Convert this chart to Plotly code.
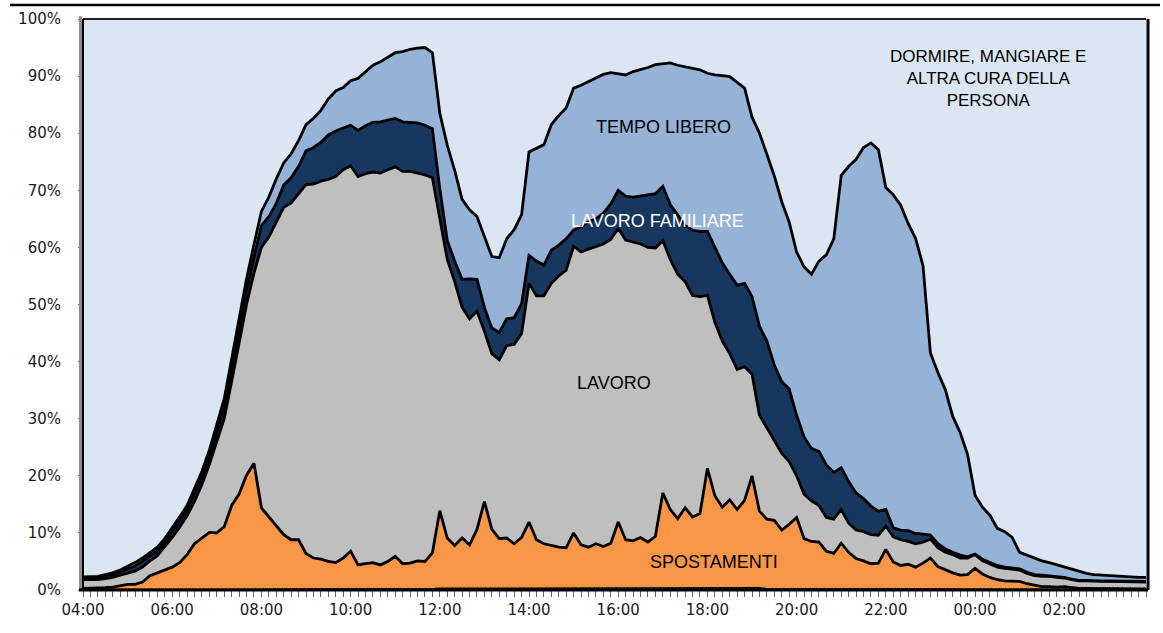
import plotly.graph_objects as go

# Categories: 10-minute slots from 04:00 to 03:50
TIMES = [f"{(4 + (10 * i) // 60) % 24:02d}:{(10 * i) % 60:02d}" for i in range(144)]
TICK_LABELS = ["04:00", "06:00", "08:00", "10:00", "12:00", "14:00",
               "16:00", "18:00", "20:00", "22:00", "00:00", "02:00"]
Y_TICKS = [0, 10, 20, 30, 40, 50, 60, 70, 80, 90, 100]
Y_TICK_LABELS = ["0%", "10%", "20%", "30%", "40%", "50%", "60%", "70%", "80%", "90%", "100%"]

# Shares (%) per activity, one value per 10-minute slot
STUDIO = [
    0.1, 0.1, 0.1, 0.1, 0.1, 0.1, 0.1, 0.1, 0.1, 0.1, 0.1, 0.1,
    0.1, 0.1, 0.1, 0.1, 0.1, 0.1, 0.1, 0.1, 0.1, 0.1, 0.1, 0.1,
    0.2, 0.2, 0.2, 0.2, 0.2, 0.2, 0.2, 0.2, 0.2, 0.2, 0.2, 0.2,
    0.2, 0.2, 0.2, 0.2, 0.2, 0.2, 0.2, 0.2, 0.2, 0.2, 0.2, 0.2,
    0.3, 0.3, 0.3, 0.3, 0.3, 0.3, 0.3, 0.3, 0.3, 0.3, 0.3, 0.3,
    0.3, 0.3, 0.3, 0.3, 0.3, 0.3, 0.3, 0.3, 0.3, 0.3, 0.3, 0.3,
    0.3, 0.3, 0.3, 0.3, 0.3, 0.3, 0.4, 0.4, 0.4, 0.4, 0.4, 0.4,
    0.4, 0.4, 0.4, 0.4, 0.4, 0.4, 0.4, 0.4, 0.2, 0.2, 0.2, 0.2,
    0.2, 0.2, 0.2, 0.2, 0.2, 0.2, 0.2, 0.2, 0.2, 0.2, 0.2, 0.2,
    0.2, 0.2, 0.2, 0.2, 0.2, 0.2, 0.2, 0.2, 0.2, 0.2, 0.2, 0.2,
    0.1, 0.1, 0.1, 0.1, 0.1, 0.1, 0.1, 0.1, 0.1, 0.1, 0.1, 0.1,
    0.1, 0.1, 0.1, 0.1, 0.1, 0.1, 0.1, 0.1, 0.1, 0.1, 0.1, 0.1,
]

SPOSTAMENTI = [
    0.2, 0.2, 0.2, 0.3, 0.4, 0.7, 0.9, 0.9, 1.3, 2.4, 2.9, 3.4,
    3.9, 4.7, 6.1, 8.0, 9.0, 10.0, 9.9, 11.0, 14.7, 16.7, 20.0, 22.1,
    14.2, 12.6, 11.1, 9.5, 8.6, 8.6, 6.2, 5.4, 5.2, 4.8, 4.6, 5.4,
    6.6, 4.2, 4.4, 4.6, 4.2, 4.8, 5.7, 4.4, 4.5, 4.9, 4.8, 6.3,
    13.6, 8.8, 7.5, 8.8, 7.6, 10.3, 15.2, 10.3, 8.7, 8.8, 7.8, 8.9,
    11.6, 8.5, 7.8, 7.5, 7.2, 7.1, 9.7, 7.6, 7.2, 7.8, 7.3, 7.9,
    11.6, 8.5, 8.3, 8.9, 8.1, 9.1, 16.6, 13.7, 12.1, 14.0, 12.4, 13.0,
    20.9, 16.1, 14.1, 15.4, 13.7, 15.3, 19.6, 13.4, 12.2, 12.0, 10.3, 11.3,
    12.5, 8.8, 8.3, 8.2, 6.6, 6.2, 8.0, 6.4, 5.3, 4.9, 4.4, 4.5,
    6.9, 4.7, 4.1, 4.3, 3.8, 4.5, 5.4, 3.9, 3.3, 2.8, 2.4, 2.5,
    3.7, 2.7, 2.1, 1.7, 1.5, 1.4, 1.4, 1.0, 0.7, 0.5, 0.5, 0.4,
    0.5, 0.3, 0.2, 0.2, 0.2, 0.1, 0.1, 0.1, 0.1, 0.1, 0.1, 0.1,
]

LAVORO = [
    1.5, 1.5, 1.5, 1.6, 1.7, 1.8, 2.0, 2.3, 2.6, 2.6, 3.0, 4.0,
    5.2, 6.2, 6.8, 7.4, 9.4, 11.9, 16.0, 18.9, 21.7, 26.2, 29.9, 33.3,
    45.6, 49.0, 53.1, 57.3, 59.0, 60.5, 64.6, 65.5, 66.2, 66.9, 67.6, 68.0,
    67.5, 68.0, 68.3, 68.4, 68.6, 68.6, 68.2, 68.7, 68.6, 67.9, 67.7, 65.7,
    51.1, 48.8, 46.2, 40.4, 39.6, 38.2, 29.8, 30.8, 31.3, 33.7, 34.9, 35.7,
    41.8, 42.7, 43.4, 45.9, 47.5, 48.6, 50.2, 51.3, 52.2, 52.1, 53.0, 53.2,
    51.4, 52.5, 52.3, 51.4, 51.6, 50.5, 44.2, 43.8, 42.8, 39.6, 38.8, 38.0,
    30.3, 30.4, 29.1, 25.6, 24.5, 23.4, 17.8, 16.8, 16.0, 13.9, 13.4, 11.0,
    7.3, 7.8, 7.1, 6.4, 5.9, 6.0, 5.9, 5.1, 5.0, 5.1, 5.1, 4.9,
    4.1, 4.4, 4.5, 4.0, 4.1, 3.7, 3.3, 3.3, 3.1, 3.2, 3.0, 2.9,
    2.4, 2.3, 2.3, 2.2, 2.2, 2.2, 2.0, 1.8, 1.7, 1.8, 1.8, 1.7,
    1.5, 1.4, 1.3, 1.3, 1.2, 1.3, 1.3, 1.3, 1.2, 1.2, 1.2, 1.2,
]

LAVORO_FAMILIARE = [
    0.3, 0.3, 0.4, 0.5, 0.5, 0.6, 0.7, 0.9, 1.0, 0.9, 0.9, 0.9,
    0.9, 1.0, 1.0, 1.3, 1.3, 1.3, 1.6, 2.0, 2.3, 2.5, 2.5, 2.8,
    3.8, 3.6, 3.3, 3.9, 4.4, 4.9, 5.9, 6.4, 6.8, 7.8, 8.0, 7.3,
    7.1, 8.1, 8.4, 8.7, 9.0, 8.7, 8.5, 8.7, 8.6, 8.8, 8.7, 8.6,
    5.3, 3.3, 3.6, 4.9, 7.0, 5.6, 4.2, 4.5, 4.8, 4.7, 4.7, 5.2,
    4.9, 6.1, 5.4, 5.8, 5.4, 5.5, 2.8, 4.4, 4.8, 4.8, 5.4, 6.2,
    6.7, 7.7, 7.9, 8.4, 9.1, 9.5, 9.5, 9.6, 10.4, 9.8, 11.4, 11.4,
    11.2, 13.0, 13.7, 13.9, 14.8, 14.6, 13.6, 15.6, 15.2, 13.3, 12.6, 12.7,
    10.6, 10.0, 9.2, 9.5, 9.2, 8.2, 7.3, 7.3, 6.5, 5.8, 5.0, 4.2,
    2.9, 1.6, 1.7, 1.9, 1.8, 1.4, 0.7, 0.7, 0.6, 0.4, 0.5, 0.2,
    0.1, 0.3, 0.3, 0.3, 0.2, 0.2, 0.2, 0.2, 0.2, 0.2, 0.1, 0.1,
    0.1, 0.1, 0.1, 0.1, 0.1, 0.1, 0.1, 0.1, 0.1, 0.1, 0.1, 0.1,
]

TEMPO_LIBERO = [
    0.2, 0.2, 0.2, 0.2, 0.3, 0.3, 0.4, 0.6, 0.6, 0.6, 0.6, 0.6,
    0.7, 0.8, 0.8, 1.0, 1.0, 1.2, 1.4, 1.5, 1.7, 2.0, 2.0, 2.2,
    2.5, 3.4, 4.3, 3.9, 4.2, 4.5, 4.6, 5.1, 5.6, 6.3, 7.0, 7.1,
    7.8, 9.1, 9.5, 10.0, 10.5, 11.0, 11.5, 12.3, 12.8, 13.1, 13.6, 13.3,
    13.2, 16.7, 15.9, 14.0, 12.1, 11.0, 12.3, 12.5, 13.1, 14.0, 15.4, 15.6,
    18.1, 19.8, 21.1, 22.0, 22.7, 22.9, 24.9, 24.8, 24.5, 24.7, 24.3, 23.0,
    20.4, 21.2, 22.0, 22.1, 22.4, 22.6, 21.5, 24.8, 26.2, 27.8, 28.4, 28.3,
    27.7, 30.3, 32.8, 34.6, 35.5, 34.2, 31.4, 33.8, 32.7, 33.1, 31.5, 29.2,
    28.6, 29.8, 30.5, 33.3, 36.8, 40.9, 51.2, 55.2, 58.4, 61.5, 63.6, 63.3,
    56.4, 58.3, 56.9, 53.8, 51.7, 47.0, 31.9, 30.0, 27.9, 23.8, 21.5, 17.9,
    10.3, 9.1, 8.3, 6.5, 6.2, 5.3, 2.9, 3.0, 2.9, 2.5, 2.3, 2.1,
    1.8, 1.7, 1.5, 1.2, 1.1, 1.0, 0.9, 0.8, 0.8, 0.7, 0.7, 0.7,
]

DORMIRE = [
    97.7, 97.7, 97.6, 97.3, 97.0, 96.5, 95.9, 95.2, 94.4, 93.4, 92.5, 91.0,
    89.2, 87.2, 85.2, 82.2, 79.2, 75.5, 71.0, 66.5, 59.5, 52.5, 45.5, 39.5,
    33.7, 31.2, 28.0, 25.2, 23.6, 21.3, 18.5, 17.4, 16.0, 14.0, 12.6, 12.0,
    10.8, 10.4, 9.2, 8.1, 7.5, 6.7, 5.9, 5.7, 5.3, 5.1, 5.0, 5.9,
    16.5, 22.1, 26.5, 31.6, 33.4, 34.6, 38.2, 41.6, 41.8, 38.5, 36.9, 34.3,
    23.3, 22.6, 22.0, 18.5, 16.9, 15.6, 12.1, 11.6, 11.0, 10.3, 9.7, 9.4,
    9.6, 9.8, 9.2, 8.9, 8.5, 8.0, 7.8, 7.7, 8.1, 8.4, 8.6, 8.9,
    9.5, 9.8, 9.9, 10.1, 11.1, 12.1, 17.2, 20.0, 23.7, 27.5, 32.0, 35.6,
    40.8, 43.4, 44.7, 42.4, 41.3, 38.5, 27.4, 25.8, 24.6, 22.5, 21.7, 22.9,
    29.5, 30.8, 32.6, 35.8, 38.4, 43.2, 58.5, 61.9, 64.9, 69.6, 72.4, 76.3,
    83.4, 85.5, 86.9, 89.2, 89.8, 90.8, 93.4, 93.9, 94.4, 94.9, 95.2, 95.6,
    96.0, 96.4, 96.8, 97.1, 97.3, 97.4, 97.5, 97.6, 97.7, 97.8, 97.8, 97.8,
]

SERIES = [
    ("Studio", STUDIO, "#7f7f7f"),
    ("Spostamenti", SPOSTAMENTI, "#F79646"),
    ("Lavoro", LAVORO, "#BFBFBF"),
    ("Lavoro familiare", LAVORO_FAMILIARE, "#17375E"),
    ("Tempo libero", TEMPO_LIBERO, "#95B3D7"),
    ("Dormire, mangiare e altra cura della persona", DORMIRE, "#DCE6F2"),
]

fig = go.Figure()
for name, vals, color in SERIES:
    last = name.startswith("Dormire")
    first = name == "Studio"
    fig.add_trace(go.Scatter(
        x=TIMES, y=vals, name=name, mode="lines",
        stackgroup="one", fillcolor=color,
        line=dict(color="#000000", width=0 if last else (1.5 if first else 2.8), shape="linear"),
        hoverinfo="x+y+name",
    ))

W, H = 1163, 633
L, R, T, B = 83, 17, 19, 43
pw, ph = W - L - R, H - T - B

def px(x):
    return (x - L) / pw

def py(y):
    return (H - B - y) / ph

label_font = "Liberation Sans, Arial, sans-serif"
annotations = [
    dict(x=px(988), y=py(78), text="DORMIRE, MANGIARE E<br>ALTRA CURA DELLA<br>PERSONA",
         font=dict(family=label_font, size=17, color="#000000"), align="center"),
    dict(x=px(663), y=py(127), text="TEMPO LIBERO",
         font=dict(family=label_font, size=18, color="#000000")),
    dict(x=px(657), y=py(221), text="LAVORO FAMILIARE",
         font=dict(family=label_font, size=18, color="#ffffff")),
    dict(x=px(614), y=py(383), text="LAVORO",
         font=dict(family=label_font, size=18, color="#000000")),
    dict(x=px(714), y=py(562), text="SPOSTAMENTI",
         font=dict(family=label_font, size=18, color="#000000")),
]
for a in annotations:
    a.update(xref="paper", yref="paper", showarrow=False, xanchor="center", yanchor="middle")

shapes = [
    # decorative rule at the very top
    dict(type="line", xref="paper", yref="paper", x0=px(10), x1=px(1160), y0=py(5), y1=py(5),
         line=dict(color="#000000", width=2.5)),
    # plot frame
    dict(type="line", xref="paper", yref="paper", x0=0, x1=1, y0=1, y1=1,
         line=dict(color="#222222", width=2)),
    dict(type="line", xref="paper", yref="paper", x0=px(1148), x1=px(1148), y0=0, y1=1,
         line=dict(color="#000000", width=3)),
    dict(type="rect", xref="paper", yref="paper", x0=px(79), x1=px(82), y0=0, y1=1.005,
         fillcolor="#8c8c8c", line=dict(width=0)),
    dict(type="line", xref="paper", yref="paper", x0=px(83), x1=px(83), y0=0, y1=1,
         line=dict(color="#000000", width=2)),
    dict(type="line", xref="paper", yref="paper", x0=px(79), x1=px(1148), y0=0, y1=0,
         line=dict(color="#000000", width=3)),
]

fig.update_layout(
    width=W, height=H,
    margin=dict(l=L, r=R, t=T, b=B, autoexpand=False),
    paper_bgcolor="#ffffff",
    plot_bgcolor="#DCE6F2",
    showlegend=False,
    annotations=annotations,
    shapes=shapes,
    font=dict(family="DejaVu Sans", size=15, color="#1a1a1a"),
)
fig.update_xaxes(
    type="category", range=[0, len(TIMES) - 1], automargin=False,
    tickmode="array", tickvals=TIMES,
    ticktext=[t if t in TICK_LABELS else "" for t in TIMES],
    ticks="outside", ticklen=6, tickcolor="#666666", tickwidth=1,
    showgrid=False, zeroline=False, showline=False,
    tickfont=dict(family="DejaVu Sans", size=15, color="#1a1a1a"),
    tickangle=0,
)
fig.update_yaxes(
    range=[0, 100], automargin=False, tickmode="array",
    tickvals=Y_TICKS, ticktext=Y_TICK_LABELS,
    ticks="outside", ticklen=4, tickcolor="#666666",
    showgrid=False, zeroline=False, showline=False,
    tickfont=dict(family="DejaVu Sans", size=15, color="#1a1a1a"),
    ticklabelstandoff=14,
)

fig.write_html(
    "out.html",
    config={"displayModeBar": False},
    post_script="document.body.style.margin='0px';document.body.style.overflow='hidden';",
)
